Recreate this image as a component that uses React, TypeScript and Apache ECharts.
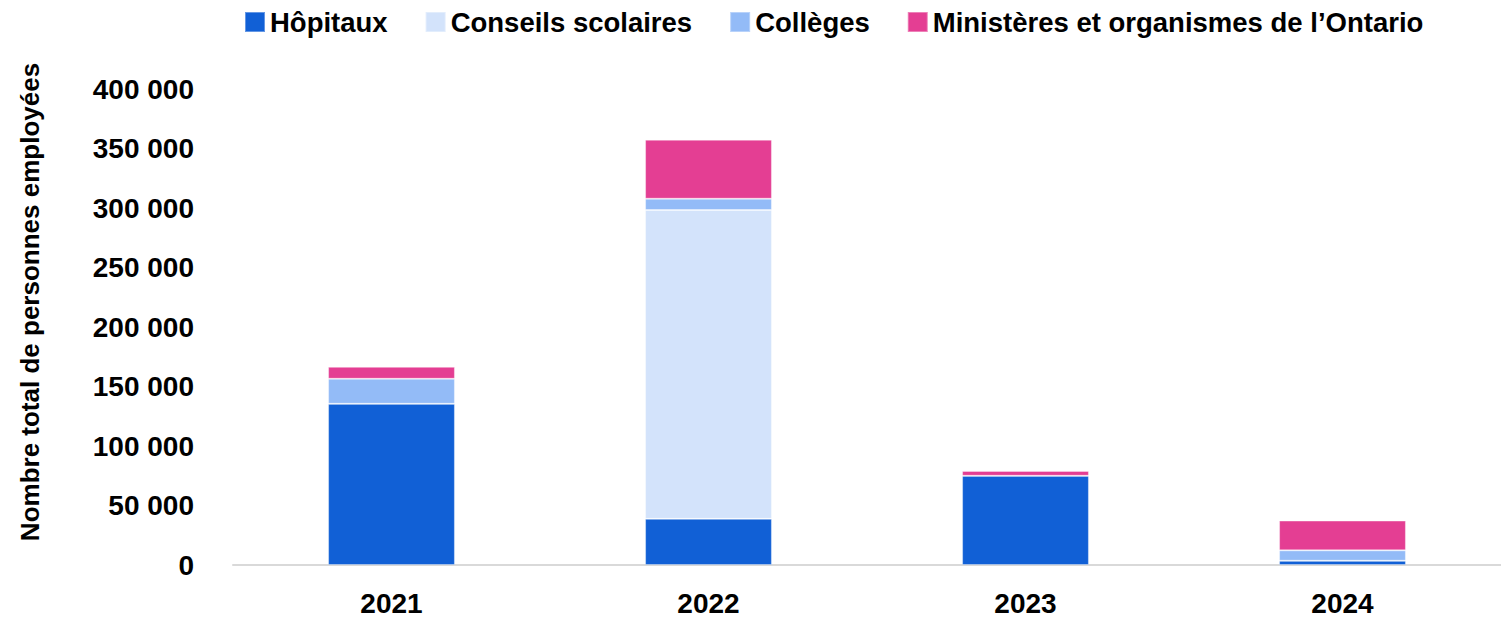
import React, { useEffect, useRef } from "react";
import * as echarts from "echarts";

const years = ["2021", "2022", "2023", "2024"];
const seriesNames = ["Hôpitaux", "Conseils scolaires", "Collèges", "Ministères et organismes de l’Ontario"];
const hopitaux = [135500, 38800, 75000, 3600];
const conseils = [0, 259500, 0, 0];
const colleges = [21000, 9500, 0, 8700];
const ministeres = [10000, 49600, 4000, 25000];
const yTicks = [0, 50000, 100000, 150000, 200000, 250000, 300000, 350000, 400000];
const colors = ["#1160D6", "#D3E3FB", "#93BBF7", "#E43E93"];
const yTitle = "Nombre total de personnes employées";

const FONT = "'Liberation Sans', Arial, sans-serif";

export default function App() {
  const ref = useRef<HTMLDivElement>(null);
  useEffect(() => {
    document.body.style.margin = "0";
    const chart = echarts.init(ref.current!, null, { renderer: "svg" });
    const data = [hopitaux, conseils, colleges, ministeres];
    chart.setOption({
      animation: false,
      textStyle: { fontFamily: FONT },
      legend: {
        left: 244,
        top: 8,
        padding: 0,
        itemWidth: 20,
        itemHeight: 20,
        itemGap: 37,
        icon: "rect",
        textStyle: { fontFamily: FONT, fontWeight: "bold", fontSize: 27.5, color: "#000" },
        data: seriesNames,
      },
      grid: { left: 233, right: 0, top: 89, bottom: 54, containLabel: false },
      xAxis: {
        type: "category",
        data: years,
        axisLine: { lineStyle: { color: "#D9D9D9", width: 2 } },
        axisTick: { show: false },
        axisLabel: { fontFamily: FONT, fontWeight: "bold", fontSize: 28, color: "#000", margin: 24 },
      },
      yAxis: {
        type: "value",
        min: yTicks[0],
        max: yTicks[yTicks.length - 1],
        interval: yTicks[1] - yTicks[0],
        splitLine: { show: false },
        axisLine: { show: false },
        axisTick: { show: false },
        axisLabel: {
          fontFamily: FONT,
          fontWeight: "bold",
          fontSize: 28,
          color: "#000",
          margin: 39,
          formatter: (v: number) => String(v).replace(/\B(?=(\d{3})+(?!\d))/g, " "),
        },
      },
      graphic: [
        {
          type: "text",
          x: 30,
          y: 302,
          rotation: Math.PI / 2,
          style: {
            text: yTitle,
            fontFamily: FONT,
            fontWeight: "bold",
            fontSize: 26,
            fill: "#000",
            align: "center",
            verticalAlign: "middle",
          },
        },
      ],
      series: seriesNames.map((name, i) => ({
        name,
        type: "bar",
        stack: "total",
        barWidth: "40%",
        data: data[i],
        itemStyle: { color: colors[i], borderColor: "rgba(255,255,255,0.35)", borderWidth: 1 },
      })),
    });
    return () => chart.dispose();
  }, []);
  return <div ref={ref} style={{ width: 1501, height: 619 }} />;
}
